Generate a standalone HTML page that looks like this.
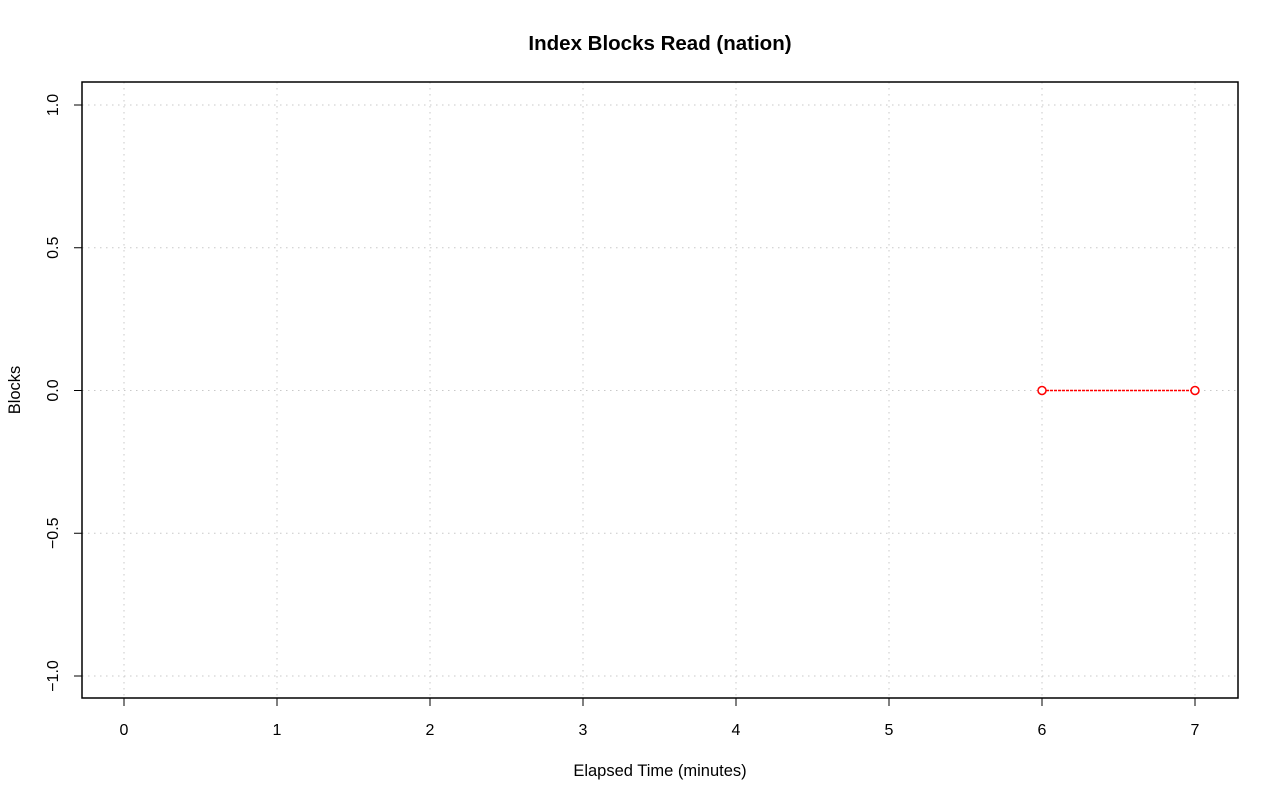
<!DOCTYPE html>
<html><head><meta charset="utf-8"><style>
body{margin:0;background:#fff;}
svg{display:block;font-family:"Liberation Sans",Arial,sans-serif;}
</style></head><body>
<svg id="chart" width="1280" height="801" xmlns="http://www.w3.org/2000/svg">
<rect width="1280" height="801" fill="#fff"/>
<text x="660" y="50" text-anchor="middle" font-size="20.5" font-weight="bold">Index Blocks Read (nation)</text>
<g id="grid"></g>
<g id="axes"></g>
<g id="series"></g>
<rect x="82" y="82" width="1156" height="616" fill="none" stroke="#000" stroke-width="1.5"/>
<text x="660" y="776" text-anchor="middle" font-size="16.5">Elapsed Time (minutes)</text>
<text transform="translate(20,390) rotate(-90)" text-anchor="middle" font-size="16.5">Blocks</text>
</svg>
<script>
const xTicks = [0,1,2,3,4,5,6,7];
const yTicks = [-1.0,-0.5,0.0,0.5,1.0];
const yTickLabels = ["\u22121.0","\u22120.5","0.0","0.5","1.0"];
const times = [6,7];
const blocks = [0,0];
const NS="http://www.w3.org/2000/svg";
function X(v){return 124 + v*153;}
function Y(v){return 390.5 - v*285.5;}
function mk(tag,attrs,parent){const e=document.createElementNS(NS,tag);for(const k in attrs)e.setAttribute(k,attrs[k]);parent.appendChild(e);return e;}
const grid=document.getElementById('grid'),axes=document.getElementById('axes'),series=document.getElementById('series');
xTicks.forEach(t=>{
  const l=mk('line',{x1:X(t),x2:X(t),y1:82,y2:698,stroke:'#c8c8c8','stroke-dasharray':'1.5 4.5'},grid);
  
  
  const tk=mk('line',{x1:X(t),x2:X(t),y1:698,y2:706,stroke:'#000'},axes);
  
  
  const tx=mk('text',{x:X(t),y:735,'text-anchor':'middle','font-size':'16'},axes);
  tx.textContent=t;
  
  
});
yTicks.forEach((t,i)=>{
  const l=mk('line',{x1:82,x2:1238,y1:Y(t),y2:Y(t),stroke:'#c8c8c8','stroke-dasharray':'1.5 4.5'},grid);
  
  
  const tk=mk('line',{x1:74,x2:82,y1:Y(t),y2:Y(t),stroke:'#000'},axes);
  
  
  const tx=mk('text',{transform:`translate(58,${Y(t)}) rotate(-90)`,'text-anchor':'middle','font-size':'16'},axes);
  tx.textContent=yTickLabels[i];
  
  
});
const pts=times.map((t,i)=>X(t)+','+Y(blocks[i])).join(' ');
const pl=mk('polyline',{points:pts,fill:'none',stroke:'#f00','stroke-width':'1.5','stroke-dasharray':'3 1'},series);


times.forEach((t,i)=>{
  const c=mk('circle',{cx:X(t),cy:Y(blocks[i]),r:4,fill:'#fff',stroke:'#f00','stroke-width':'1.5'},series);
  
  
});
</script>
</body></html>
